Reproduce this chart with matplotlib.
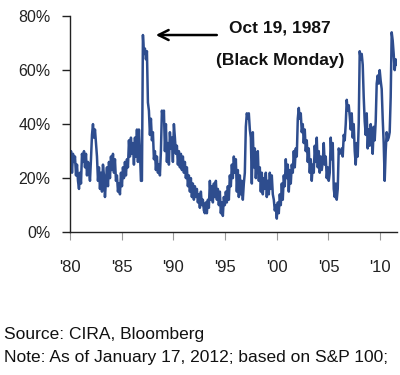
import numpy as np
import matplotlib
matplotlib.use("Agg")
import matplotlib.pyplot as plt

plt.rcParams['font.family'] = ['Liberation Sans', 'DejaVu Sans']

# Implied volatility (%), roughly evenly spaced from Jan 1980
vol = [24, 30, 22, 29, 26, 28, 21, 25, 19, 16, 22, 18, 29, 26, 30, 24, 29, 21, 26, 23,
       19, 27, 36, 40, 35, 38, 33, 28, 19, 24, 16, 22, 15, 25, 21, 13, 19, 24, 17, 26,
       20, 28, 23, 29, 22, 27, 19, 21, 15, 18, 14, 22, 17, 24, 20, 26, 21, 27, 24, 34,
       28, 35, 29, 33, 25, 35, 28, 38, 26, 38, 30, 19, 19, 73, 66, 68, 64, 67, 48, 45,
       36, 42, 34, 37, 27, 30, 23, 28, 22, 25, 21, 30, 45, 42, 45, 30, 40, 26, 33, 25,
       37, 31, 35, 26, 40, 35, 29, 32, 25, 30, 24, 29, 23, 28, 22, 26, 20, 24, 17, 21,
       15, 20, 13, 18, 12, 17, 13, 16, 11, 14, 9, 15, 10, 12, 8, 7, 11, 7, 12, 9,
       19, 12, 17, 11, 18, 13, 19, 12, 16, 10, 15, 7, 11, 6, 13, 10, 15, 11, 17, 12,
       21, 17, 25, 20, 28, 22, 27, 15, 23, 13, 21, 14, 19, 12, 18, 22, 39, 44, 42, 44,
       38, 35, 18, 37, 24, 31, 20, 26, 30, 19, 24, 15, 22, 14, 20, 16, 22, 13, 19, 14,
       22, 16, 21, 14, 12, 8, 10, 5, 11, 7, 14, 10, 18, 12, 21, 17, 27, 20, 25, 15,
       23, 18, 25, 22, 30, 24, 31, 28, 42, 46, 42, 44, 37, 40, 33, 38, 30, 34, 26, 31,
       22, 27, 19, 25, 22, 32, 26, 35, 24, 30, 22, 28, 23, 26, 33, 25, 28, 20, 24, 19,
       22, 35, 27, 33, 16, 13, 18, 12, 16, 31, 29, 30, 31, 28, 36, 34, 40, 49, 45, 47,
       43, 38, 44, 35, 40, 30, 25, 33, 28, 40, 67, 64, 66, 62, 50, 41, 36, 44, 31, 38,
       32, 40, 36, 29, 39, 34, 41, 55, 58, 55, 60, 56, 53, 42, 33, 19, 30, 37, 34, 35,
       37, 50, 74, 71, 66, 60, 64, 62]
start_year = 1980.0
end_year = 2011.6
years = np.linspace(start_year, end_year, len(vol))

tick_years = [1980, 1985, 1990, 1995, 2000, 2005, 2010]
tick_labels = ["'80", "'85", "'90", "'95", "'00", "'05", "'10"]
y_ticks = [0, 20, 40, 60, 80]

fig = plt.figure(figsize=(4.0, 3.75), dpi=100)
ax = fig.add_axes([0.175, 0.381, 0.818, 0.576])
ax.plot(years, vol, color='#2e4d8e', lw=1.8)

ax.set_xlim(start_year, end_year + 0.05)
ax.set_ylim(0, 80)
ax.set_xticks(tick_years)
ax.set_xticklabels(tick_labels)
ax.set_yticks(y_ticks)
ax.set_yticklabels([f"{v}%" for v in y_ticks])

for s in ['top', 'right']:
    ax.spines[s].set_visible(False)
for s in ['left', 'bottom']:
    ax.spines[s].set_color('#222222')
    ax.spines[s].set_linewidth(1.0)
ax.tick_params(axis='y', direction='out', length=6, width=1, pad=8, labelsize=11.5, colors='#222222')
ax.tick_params(axis='x', direction='out', length=6, width=0.8, pad=14, labelsize=12,
               colors='#999999', labelcolor='#222222')

ax.annotate('', xy=(1988.3, 73), xytext=(1994.2, 73),
            arrowprops=dict(arrowstyle='->', color='black', lw=1.8, mutation_scale=18,
                            shrinkA=0, shrinkB=0))
ax.text(2000.3, 75.5, 'Oct 19, 1987', ha='center', va='center', fontsize=12.5,
        fontweight='bold', color='#111111')
ax.text(2000.3, 63.5, '(Black Monday)', ha='center', va='center', fontsize=12.5,
        fontweight='bold', color='#111111')

fig.text(0.01, 0.109, 'Source: CIRA, Bloomberg', fontsize=12.5, va='center', color='#111111')
fig.text(0.01, 0.046, 'Note: As of January 17, 2012; based on S&P 100;', fontsize=12.5,
         va='center', color='#111111')

fig.savefig('out.png', dpi=100)
